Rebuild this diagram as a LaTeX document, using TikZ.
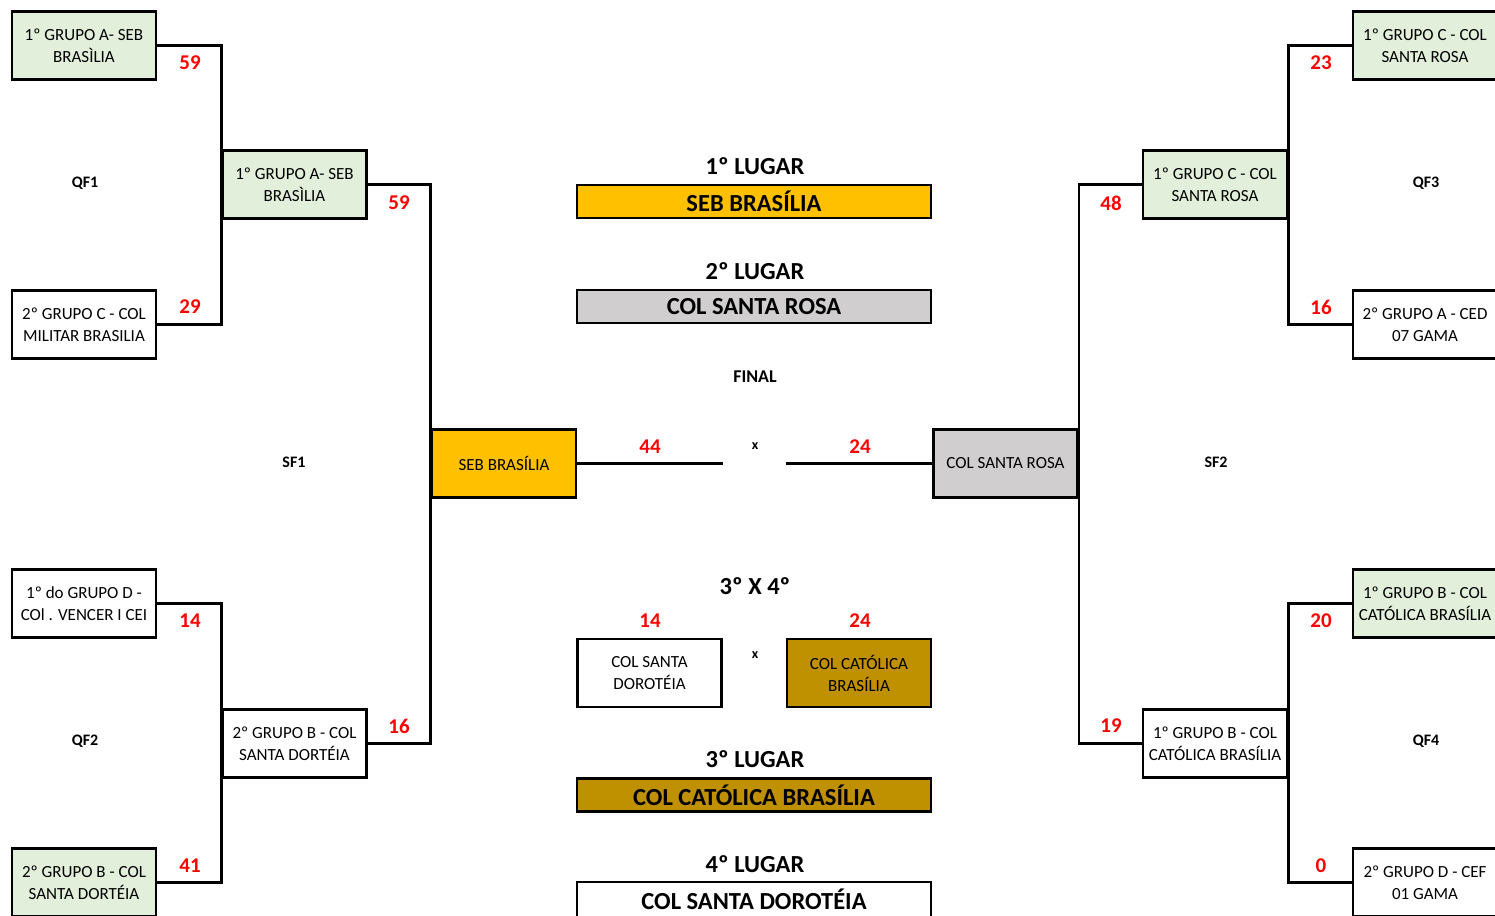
\documentclass[tikz,border=0pt]{standalone}
\usepackage{fontspec}
\setmainfont{Carlito}
\usepackage{xcolor}
\usetikzlibrary{positioning, calc}
\definecolor{grupo}{HTML}{E2EFDA}
\definecolor{ouro}{HTML}{FFC000}
\definecolor{prata}{HTML}{D0CECE}
\definecolor{bronze}{HTML}{BF9000}
\tikzset{
	team/.style={rectangle, draw, line width=2.6pt, minimum width=144pt, minimum height=68pt, inner sep=0pt, align=center, font=\fontsize{17}{22}\selectfont},
	seed/.style={team, fill=grupo},
	banner/.style={rectangle, draw, line width=2.6pt, minimum width=354pt, minimum height=33pt, inner sep=0pt, font=\bfseries\fontsize{24.5}{24.5}\selectfont},
	link/.style={draw, line width=2.6pt},
	score/.style={text=red, font=\bfseries\fontsize{21}{21}\selectfont},
	tag/.style={font=\bfseries\fontsize{16}{16}\selectfont},
	vs/.style={font=\bfseries\fontsize{14}{14}\selectfont},
	place/.style={font=\bfseries\fontsize{24.5}{24.5}\selectfont}
}

\begin{document}
\begin{tikzpicture}[x=1pt, y=-1pt]
		\clip (0,0) rectangle (1495,915);
		
		% --- Quarter finals, left side ---
		\node[seed] (qf1_a) at (84,45.5) {1º GRUPO A- SEB\\BRASÌLIA};
		\node[team] (qf1_b) at (84,324.5) {2º GRUPO C - COL\\MILITAR BRASILIA};
		\node[team] (qf2_a) at (84,603.5) {1º do GRUPO D -\\COl . VENCER I CEI};
		\node[seed] (qf2_b) at (84,882.5) {2º GRUPO B - COL\\SANTA DORTÉIA};
		
		% --- Semi finals, left side ---
		\node[seed] (sf1_a) at (294.5,184.5) {1º GRUPO A- SEB\\BRASÌLIA};
		\node[team] (sf1_b) at (294.5,743.5) {2º GRUPO B - COL\\SANTA DORTÉIA};
		
		% --- Quarter finals, right side ---
		\node[seed] (qf3_a) at (1425,45.5) {1º GRUPO C - COL\\SANTA ROSA};
		\node[team] (qf3_b) at (1425,324.5) {2º GRUPO A - CED\\07 GAMA};
		\node[seed] (qf4_a) at (1425,603.5) {1º GRUPO B - COL\\CATÓLICA BRASÍLIA};
		\node[team] (qf4_b) at (1425,882.5) {2º GRUPO D - CEF\\01 GAMA};
		
		% --- Semi finals, right side ---
		\node[seed] (sf2_a) at (1215,184.5) {1º GRUPO C - COL\\SANTA ROSA};
		\node[team] (sf2_b) at (1215,743.5) {1º GRUPO B - COL\\CATÓLICA BRASÍLIA};
		
		% --- Final ---
		\node[team, fill=ouro] (final_a) at (504,463.5) {SEB BRASÍLIA};
		\node[team, fill=prata] (final_b) at (1005.5,463.5) {COL SANTA ROSA};
		\coordinate (final_l) at (723,463.5);
		\coordinate (final_r) at (786,463.5);
		\node[tag, font=\bfseries\fontsize{18}{18}\selectfont] (final) at (755,377) {FINAL};
		\node[vs] (final_x) at (755,446) {x};
		
		% --- Third place match ---
		\node[team] (third_a) at (649.5,673) {COL SANTA\\DOROTÉIA};
		\node[team, fill=bronze] (third_b) at (859,673) {COL CATÓLICA\\BRASÍLIA};
		\node[place] (third) at (755,586) {3º X 4º};
		\node[vs] (third_x) at (755,655) {x};
		
		% --- Standings ---
		\node[place] (first_t) at (755,166) {1º LUGAR};
		\node[banner, fill=ouro] (first) at (754,201.5) {SEB BRASÍLIA};
		\node[place] (second_t) at (755,271) {2º LUGAR};
		\node[banner, fill=prata] (second) at (754,306.5) {COL SANTA ROSA};
		\node[place] (bronze_t) at (755,759) {3º LUGAR};
		\node[banner, fill=bronze] (bronze) at (754,795) {COL CATÓLICA BRASÍLIA};
		\node[place] (fourth_t) at (755,864) {4º LUGAR};
		\node[banner, minimum height=35pt] (fourth) at (754,899.5) {COL SANTA DOROTÉIA};
		
		% --- Round labels ---
		\node[tag] (qf1) at (85,183) {QF1};
		\node[tag] (qf2) at (85,741) {QF2};
		\node[tag] (sf1) at (294,462) {SF1};
		\node[tag] (qf3) at (1426,183) {QF3};
		\node[tag] (qf4) at (1426,741) {QF4};
		\node[tag] (sf2) at (1216,462) {SF2};
		
		% --- Bracket lines ---
		\draw[link] (qf1_a.east) -- (qf1_a.east -| sf1_a.west) |- (qf1_b.east);
		\draw[link] (qf2_a.east) -- (qf2_a.east -| sf1_b.west) |- (qf2_b.east);
		\draw[link] (sf1_a.east) -- (sf1_a.east -| final_a.west) |- (sf1_b.east);
		\draw[link] (qf3_a.west) -- (qf3_a.west -| sf2_a.east) |- (qf3_b.west);
		\draw[link] (qf4_a.west) -- (qf4_a.west -| sf2_b.east) |- (qf4_b.west);
		\draw[link] (sf2_a.west) -- (sf2_a.west -| final_b.east) |- (sf2_b.west);
		\draw[link] (final_a.east) -- (final_l);
		\draw[link] (final_r) -- (final_b.west);
		
		% --- Scores ---
		\node[score] at (190,63) {59};
		\node[score] at (190,307) {29};
		\node[score] at (190,621) {14};
		\node[score] at (190,866) {41};
		\node[score] at (399,203) {59};
		\node[score] at (399,726) {16};
		\node[score] at (1321,63) {23};
		\node[score] at (1321,307) {16};
		\node[score] at (1321,621) {20};
		\node[score] at (1321,866) {0};
		\node[score] at (1111,203) {48};
		\node[score] at (1111,726) {19};
		\node[score] at (650,447) {44};
		\node[score] at (860,447) {24};
		\node[score] at (650,621) {14};
		\node[score] at (860,621) {24};
		
	\end{tikzpicture}
\end{document}
